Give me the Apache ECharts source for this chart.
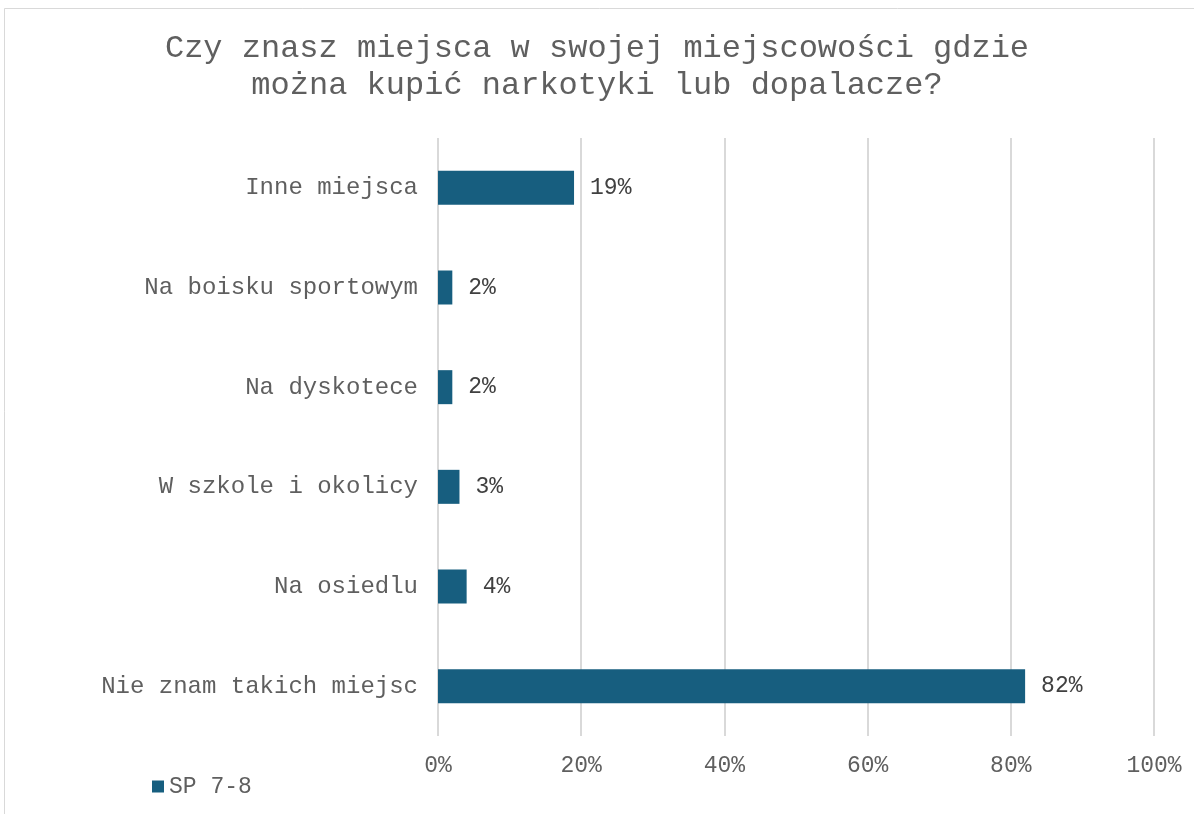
<!DOCTYPE html>
<html><head><meta charset="utf-8">
<script src="https://cdn.jsdelivr.net/npm/echarts@6/dist/echarts.min.js"></script>
<style>html,body{margin:0;padding:0;background:#fff}#c{width:1194px;height:814px}</style>
</head><body><div id="c"></div>
<script>
const categories = ["Nie znam takich miejsc","Na osiedlu","W szkole i okolicy","Na dyskotece","Na boisku sportowym","Inne miejsca"];
const values = [82,4,3,2,2,19];
const seriesName = "SP 7-8";
const titleText = "Czy znasz miejsca w swojej miejscowości gdzie\nmożna kupić narkotyki lub dopalacze?";

const FONT = "Liberation Mono";
const chart = echarts.init(document.getElementById('c'));
chart.setOption({
  animation:false,
  backgroundColor:'#fff',
  graphic:[{type:'rect',shape:{x:4.5,y:8.5,width:1200,height:820},style:{fill:'none',stroke:'#d9d9d9',lineWidth:1}}],
  title:{text:titleText,left:'center',top:25,textStyle:{fontFamily:FONT,fontSize:32,fontWeight:'normal',color:'#5f5f5f',lineHeight:37}},
  legend:{data:[seriesName],left:147,top:770,itemWidth:12,itemHeight:12,itemGap:4,icon:'rect',textStyle:{fontFamily:FONT,fontSize:23,color:'#5f5f5f'}},
  grid:{left:438,right:40,top:138,bottom:78,containLabel:false},
  xAxis:{type:'value',min:0,max:100,interval:20,
    axisLabel:{formatter:'{value}%',fontFamily:FONT,fontSize:23,color:'#5f5f5f',margin:18},
    splitLine:{lineStyle:{color:'#d9d9d9',width:2}},axisLine:{show:false},axisTick:{show:false}},
  yAxis:{type:'category',data:categories,
    axisLabel:{fontFamily:FONT,fontSize:24,color:'#5f5f5f',margin:20},
    axisLine:{show:false},axisTick:{show:false}},
  series:[{name:seriesName,type:'bar',data:values,barWidth:34,
    itemStyle:{color:'#175E7F'},
    label:{show:true,position:'right',distance:16,formatter:'{c}%',fontFamily:FONT,fontSize:23,color:'#404040'}}]
});
</script></body></html>
